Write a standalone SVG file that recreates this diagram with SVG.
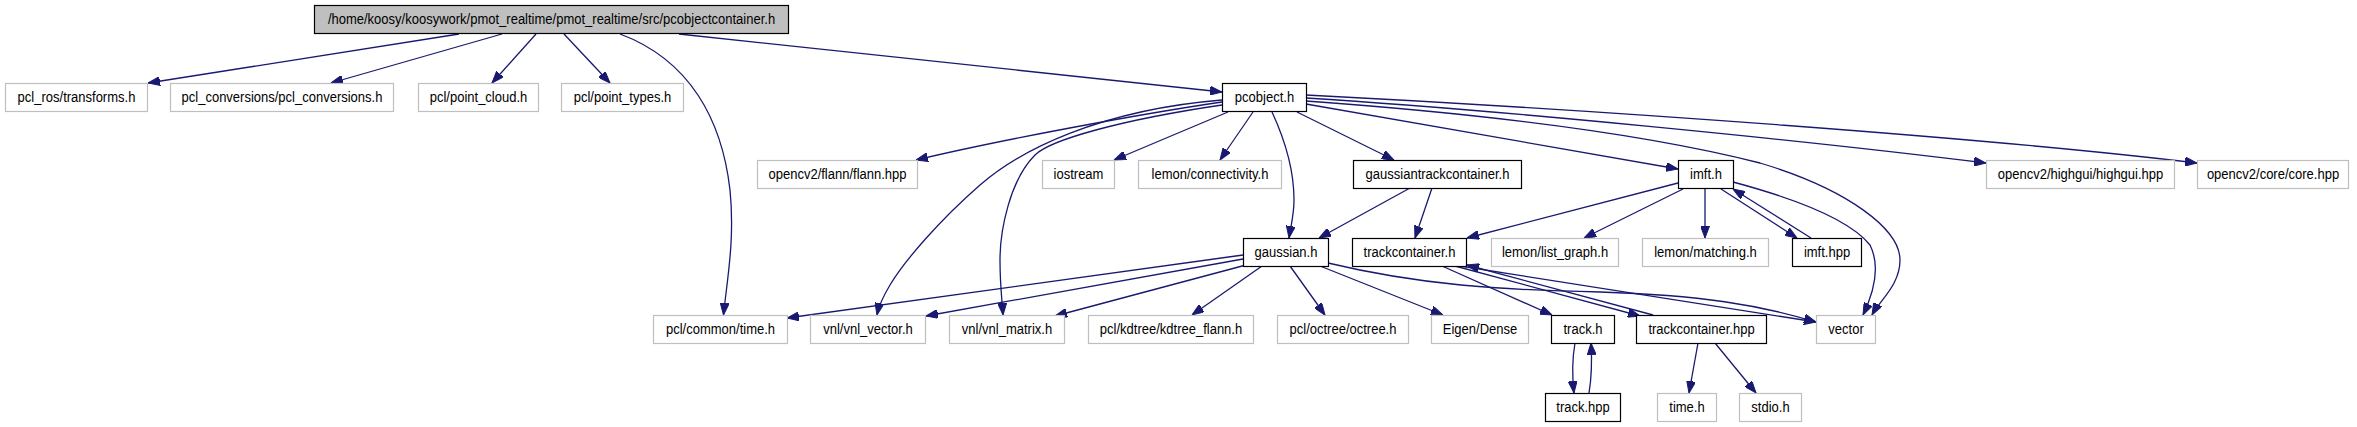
<svg xmlns="http://www.w3.org/2000/svg" width="2357" height="427" viewBox="0 0 2357 427">
<style>
text{font-family:"Liberation Sans",Arial,sans-serif;font-size:14.5px;fill:#000;text-anchor:middle;transform-box:fill-box;transform-origin:center;transform:scaleX(0.897)}
.k rect{fill:#fff;stroke:#000;stroke-width:1.2}
.g rect{fill:#fff;stroke:#bfbfbf;stroke-width:1.2}
.r rect{fill:#bfbfbf;stroke:#000;stroke-width:1.2}
#edges path{fill:none;stroke:#191970;stroke-width:1.3;marker-end:url(#a)}
</style>
<defs>
<marker id="a" viewBox="0 0 12 9" refX="12" refY="4.5" markerWidth="12" markerHeight="9" markerUnits="userSpaceOnUse" orient="auto"><path d="M0,0 L12,4.5 L0,9 z" fill="#191970" stroke="#191970"/></marker>
</defs>
<rect width="2357" height="427" fill="#fff"/>
<g id="edges">
<path d="M459,34 L148,83"/>
<path d="M502,34 L331,83"/>
<path d="M536,34 L492,83"/>
<path d="M564,34 L610,83"/>
<path d="M620,34 C690,60 722,120 730,190 C735,240 727,280 723.5,315"/>
<path d="M679,34 L1222,92"/>
<path d="M1222,102 C1140,114 1000,140 916,160"/>
<path d="M1222,100 C1100,110 1020,150 980,185 C940,220 905,260 890,285 C884,295 879,305 877,315"/>
<path d="M1222,105 C1120,120 1050,140 1035,155 C1010,180 1000,230 1000,260 C1000,285 1002,300 1003,315"/>
<path d="M1228,112 L1114,160"/>
<path d="M1253,112 L1220,160"/>
<path d="M1272,112 C1285,140 1294,170 1294,200 C1294,215 1291,225 1289,238"/>
<path d="M1297,112 L1394,160"/>
<path d="M1306,104 L1678,169"/>
<path d="M1306,98 C1500,110 1800,140 1986,163"/>
<path d="M1306,95 C1600,110 1990,138 2197,163"/>
<path d="M1306,101 C1500,115 1650,135 1760,163 C1850,190 1900,230 1900,260 C1900,285 1880,300 1872,315"/>
<path d="M1410,188 L1319,238"/>
<path d="M1432,188 L1415,238"/>
<path d="M1678,183 L1467,238"/>
<path d="M1683,189 L1584,238"/>
<path d="M1705,189 L1705,238"/>
<path d="M1721,189 L1797,238"/>
<path d="M1811,238 L1733,189"/>
<path d="M1733,182 C1800,200 1850,220 1870,245 C1880,265 1875,290 1863,315"/>
<path d="M1243,255 L787,318"/>
<path d="M1243,259 L926,316"/>
<path d="M1246,265 L1055,316"/>
<path d="M1262,266 L1192,315"/>
<path d="M1290,266 L1325,315"/>
<path d="M1320,266 L1443,315"/>
<path d="M1328,263 C1420,285 1500,290 1600,292 C1700,295 1760,305 1816,322"/>
<path d="M1442,266 L1552,315"/>
<path d="M1455,266 L1640,316"/>
<path d="M1653,315 L1467,265"/>
<path d="M1460,266 L1816,322"/>
<path d="M1698,343 L1689,393"/>
<path d="M1715,343 L1756,393"/>
<path d="M1575,343 C1572,360 1572,375 1574,393"/>
<path d="M1589,393 C1592,375 1592,360 1591,343"/>
</g>
<g id="root" class="r"><rect x="314.5" y="5.5" width="474" height="28"/><text x="551.5" y="24.5">/home/koosy/koosywork/pmot_realtime/pmot_realtime/src/pcobjectcontainer.h</text></g>
<g id="pcl_ros_transforms" class="g"><rect x="5.5" y="83.5" width="142" height="28"/><text x="76.5" y="102.5">pcl_ros/transforms.h</text></g>
<g id="pcl_conversions" class="g"><rect x="170.5" y="83.5" width="223" height="28"/><text x="282" y="102.5">pcl_conversions/pcl_conversions.h</text></g>
<g id="pcl_point_cloud" class="g"><rect x="418.5" y="83.5" width="120" height="28"/><text x="478.5" y="102.5">pcl/point_cloud.h</text></g>
<g id="pcl_point_types" class="g"><rect x="561.5" y="83.5" width="122" height="28"/><text x="622.5" y="102.5">pcl/point_types.h</text></g>
<g id="pcobject" class="k"><rect x="1222.5" y="83.5" width="84" height="28"/><text x="1264.5" y="102.5">pcobject.h</text></g>
<g id="flann" class="g"><rect x="757.5" y="160.5" width="160" height="28"/><text x="837.5" y="179.5">opencv2/flann/flann.hpp</text></g>
<g id="iostream" class="g"><rect x="1042.5" y="160.5" width="72" height="28"/><text x="1078.5" y="179.5">iostream</text></g>
<g id="connectivity" class="g"><rect x="1138.5" y="160.5" width="143" height="28"/><text x="1210" y="179.5">lemon/connectivity.h</text></g>
<g id="gaussiantrackcontainer" class="k"><rect x="1353.5" y="160.5" width="168" height="28"/><text x="1437.5" y="179.5">gaussiantrackcontainer.h</text></g>
<g id="imft_h" class="k"><rect x="1678.5" y="160.5" width="55" height="28"/><text x="1706" y="179.5">imft.h</text></g>
<g id="highgui" class="g"><rect x="1986.5" y="160.5" width="188" height="28"/><text x="2080.5" y="179.5">opencv2/highgui/highgui.hpp</text></g>
<g id="core" class="g"><rect x="2197.5" y="160.5" width="151" height="28"/><text x="2273" y="179.5">opencv2/core/core.hpp</text></g>
<g id="gaussian" class="k"><rect x="1243.5" y="238.5" width="85" height="28"/><text x="1286" y="257.5">gaussian.h</text></g>
<g id="trackcontainer_h" class="k"><rect x="1352.5" y="238.5" width="114" height="28"/><text x="1409.5" y="257.5">trackcontainer.h</text></g>
<g id="list_graph" class="g"><rect x="1491.5" y="238.5" width="127" height="28"/><text x="1555" y="257.5">lemon/list_graph.h</text></g>
<g id="matching" class="g"><rect x="1642.5" y="238.5" width="126" height="28"/><text x="1705.5" y="257.5">lemon/matching.h</text></g>
<g id="imft_hpp" class="k"><rect x="1792.5" y="238.5" width="69" height="28"/><text x="1827" y="257.5">imft.hpp</text></g>
<g id="pcl_time" class="g"><rect x="653.5" y="315.5" width="134" height="28"/><text x="720.5" y="334.5">pcl/common/time.h</text></g>
<g id="vnl_vector" class="g"><rect x="810.5" y="315.5" width="115" height="28"/><text x="868" y="334.5">vnl/vnl_vector.h</text></g>
<g id="vnl_matrix" class="g"><rect x="949.5" y="315.5" width="115" height="28"/><text x="1007" y="334.5">vnl/vnl_matrix.h</text></g>
<g id="kdtree" class="g"><rect x="1088.5" y="315.5" width="165" height="28"/><text x="1171" y="334.5">pcl/kdtree/kdtree_flann.h</text></g>
<g id="octree" class="g"><rect x="1277.5" y="315.5" width="131" height="28"/><text x="1343" y="334.5">pcl/octree/octree.h</text></g>
<g id="eigen" class="g"><rect x="1431.5" y="315.5" width="97" height="28"/><text x="1480" y="334.5">Eigen/Dense</text></g>
<g id="track_h" class="k"><rect x="1551.5" y="315.5" width="63" height="28"/><text x="1583" y="334.5">track.h</text></g>
<g id="trackcontainer_hpp" class="k"><rect x="1636.5" y="315.5" width="130" height="28"/><text x="1701.5" y="334.5">trackcontainer.hpp</text></g>
<g id="vector" class="g"><rect x="1816.5" y="315.5" width="59" height="28"/><text x="1846" y="334.5">vector</text></g>
<g id="track_hpp" class="k"><rect x="1545.5" y="393.5" width="75" height="28"/><text x="1583" y="412.5">track.hpp</text></g>
<g id="time_h" class="g"><rect x="1657.5" y="393.5" width="59" height="28"/><text x="1687" y="412.5">time.h</text></g>
<g id="stdio_h" class="g"><rect x="1739.5" y="393.5" width="62" height="28"/><text x="1770.5" y="412.5">stdio.h</text></g>
</svg>
